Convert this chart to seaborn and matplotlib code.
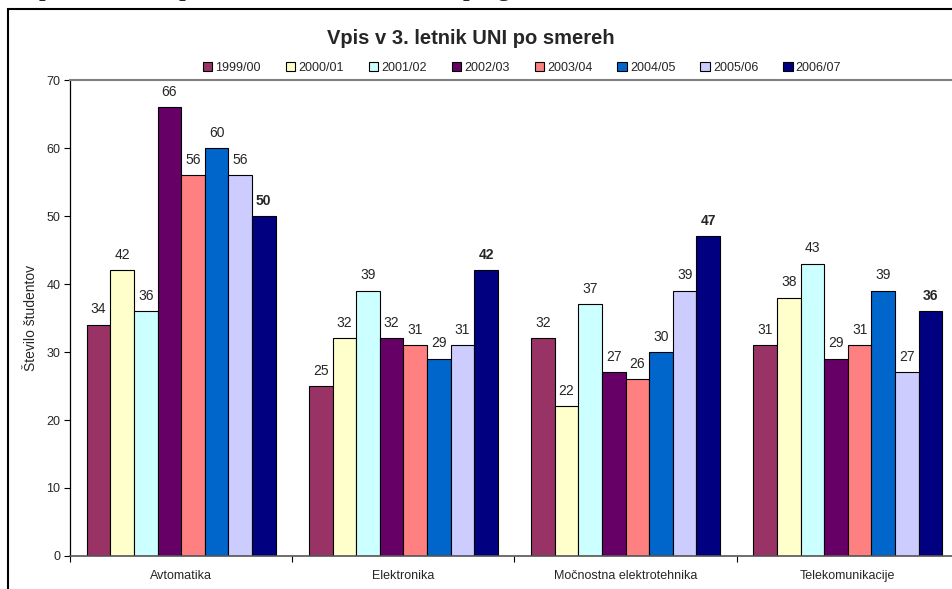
import numpy as np
import pandas as pd
import matplotlib
matplotlib.use('Agg')
import matplotlib.pyplot as plt
import seaborn as sns
from matplotlib.patches import Rectangle, Patch

sns.set_style('white')
plt.rcParams['font.family'] = ['Liberation Sans', 'DejaVu Sans']

# podatki
smeri = ['Avtomatika', 'Elektronika', 'Močnostna elektrotehnika', 'Telekomunikacije']
leta = ['1999/00', '2000/01', '2001/02', '2002/03', '2003/04', '2004/05', '2005/06', '2006/07']
v_1999 = [34, 25, 32, 31]
v_2000 = [42, 32, 22, 38]
v_2001 = [36, 39, 37, 43]
v_2002 = [66, 32, 27, 29]
v_2003 = [56, 31, 26, 31]
v_2004 = [60, 29, 30, 39]
v_2005 = [56, 31, 39, 27]
v_2006 = [50, 42, 47, 36]
barve = ['#993366', '#FFFFCC', '#CCFFFF', '#660066', '#FF8080', '#0066CC', '#CCCCFF', '#000080']

vrednosti = [v_1999, v_2000, v_2001, v_2002, v_2003, v_2004, v_2005, v_2006]
df = pd.DataFrame([(s, l, v[i]) for l, v in zip(leta, vrednosti) for i, s in enumerate(smeri)],
                  columns=['smer', 'leto', 'st'])

fig = plt.figure(figsize=(9.53, 5.89), dpi=100)
W, H = 953, 589
ax = fig.add_axes([70 / W, 1 - 556 / H, (959 - 70) / W, (556 - 80) / H])

sns.barplot(data=df, x='smer', y='st', hue='leto', order=smeri, hue_order=leta,
            palette=barve, saturation=1, edgecolor='black', linewidth=0.8,
            width=0.85, gap=0, legend=False, ax=ax)

# oznake vrednosti
for i, cont in enumerate(ax.containers):
    ax.bar_label(cont, padding=6, fontsize=10,
                 fontweight='bold' if i == len(ax.containers) - 1 else 'normal')

ax.set_ylim(0, 70)
ax.set_xlim(-0.5, 3.5)
ax.set_yticks(range(0, 71, 10))
ax.set_xlabel('')
ax.set_ylabel('Število študentov', fontsize=10, labelpad=6)
ax.tick_params(axis='y', which='major', direction='out', length=4, width=0.8,
               color='black', labelsize=9, left=True, pad=3)
ax.tick_params(axis='x', which='major', length=0, labelsize=9, pad=10)
ax.set_xticks(np.arange(-0.5, 4, 1), minor=True)
ax.tick_params(axis='x', which='minor', direction='out', length=4, width=0.8,
               color='black', bottom=True)

ax.spines['left'].set_color('black')
ax.spines['left'].set_linewidth(0.9)
ax.spines['bottom'].set_color('#555555')
ax.spines['bottom'].set_linewidth(1.2)
ax.spines['top'].set_color('#808080')
ax.spines['top'].set_linewidth(1.5)
ax.spines['right'].set_visible(False)

# legenda
handles = [Patch(facecolor=c, edgecolor='black', linewidth=0.8) for c in barve]
fig.legend(handles, leta, loc='center', bbox_to_anchor=(522 / W, 1 - 68 / H),
           ncol=8, frameon=False, fontsize=9, handlelength=0.75, handleheight=0.75,
           handletextpad=0.25, columnspacing=2.0)

fig.text(471 / W, 1 - 38 / H, 'Vpis v 3. letnik UNI po smereh', ha='center', va='center',
         fontsize=14.5, fontweight='bold')

# okvir grafa
fig.patches.append(Rectangle((8 / W, -0.05), 1.0, 1 - 9 / H + 0.05, transform=fig.transFigure,
                             fill=False, edgecolor='black', linewidth=1.5))

# odrezan naslov nad grafom (viden je le spodnji rob)
fig.text(22 / W, 1 + 4 / H, 'Vpis v 3. letnik po smereh in univerzitetnih programih',
         ha='left', va='baseline', fontsize=17, fontweight='bold',
         family=['Liberation Serif', 'DejaVu Serif'])

fig.savefig('out.png', dpi=100)
